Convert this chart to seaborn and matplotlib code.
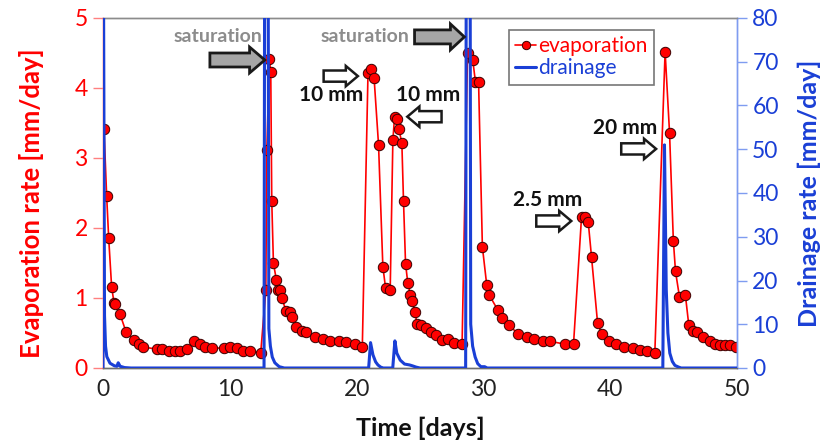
import matplotlib
matplotlib.use("Agg")
import matplotlib.pyplot as plt
from matplotlib.patches import FancyArrow
from matplotlib.lines import Line2D
import seaborn as sns
import pandas as pd

# Evaporation measurements (days, mm/day)
evap_days = [0.0, 0.08, 0.29, 0.45, 0.68, 0.87, 0.97, 1.34, 1.81, 2.47, 2.86, 3.17,
             4.22, 4.69, 5.2, 5.67, 6.09, 6.64, 7.17, 7.64, 8.08, 8.61, 9.55, 10.05,
             10.55, 11.05, 11.57, 12.44, 12.84, 12.92, 13.12, 13.23, 13.31, 13.44,
             13.67, 13.82, 13.97, 14.1, 14.43, 14.72, 14.94, 15.25, 15.72, 16.04,
             16.69, 17.35, 17.93, 18.61, 19.19, 19.84, 20.45, 20.9, 21.15, 21.38,
             21.73, 22.07, 22.28, 22.65, 22.86, 22.99, 23.17, 23.33, 23.57, 23.7,
             23.86, 24.04, 24.25, 24.39, 24.57, 24.79, 25.1, 25.48, 25.88, 26.27,
             26.72, 27.24, 27.66, 28.32, 28.75, 29.16, 29.37, 29.62, 29.92, 30.26,
             30.47, 31.13, 31.47, 32.05, 32.76, 33.41, 34.02, 34.67, 35.28, 36.46,
             37.11, 37.74, 38.03, 38.27, 38.53, 39.0, 39.32, 39.92, 40.45, 41.1,
             41.76, 42.34, 42.94, 43.52, 44.33, 44.68, 44.98, 45.15, 45.46, 45.93,
             46.2, 46.55, 46.85, 47.32, 47.85, 48.27, 48.64, 49.06, 49.43, 49.95]
evap_rate = [5.6, 3.41, 2.45, 1.85, 1.16, 0.93, 0.91, 0.77, 0.52, 0.40, 0.35, 0.30,
             0.27, 0.27, 0.24, 0.24, 0.24, 0.27, 0.39, 0.35, 0.30, 0.29, 0.28, 0.30,
             0.28, 0.24, 0.24, 0.22, 1.11, 3.11, 4.41, 4.23, 2.38, 1.50,
             1.26, 1.12, 1.11, 1.00, 0.82, 0.80, 0.73, 0.59, 0.53, 0.52,
             0.45, 0.41, 0.38, 0.38, 0.37, 0.35, 0.30, 4.22, 4.27, 4.14,
             3.19, 1.45, 1.15, 1.12, 3.25, 3.58, 3.55, 3.42, 3.21, 2.38,
             1.49, 1.21, 1.04, 0.96, 0.80, 0.63, 0.61, 0.57, 0.52, 0.47,
             0.40, 0.41, 0.36, 0.35, 4.50, 4.40, 4.09, 4.08, 1.73, 1.19,
             1.04, 0.83, 0.71, 0.61, 0.48, 0.44, 0.41, 0.38, 0.38, 0.34,
             0.35, 2.16, 2.15, 2.08, 1.58, 0.65, 0.48, 0.38, 0.34, 0.30,
             0.28, 0.26, 0.24, 0.22, 4.52, 3.36, 1.82, 1.38, 1.02, 1.04,
             0.61, 0.53, 0.52, 0.45, 0.38, 0.35, 0.33, 0.33, 0.33, 0.30]

# Drainage outflow (days, mm/day)
drain_days = [0.0, 0.03, 0.12, 0.2, 0.3, 0.55, 0.9, 1.1, 1.2, 1.35, 1.7, 2.2,
              12.7, 12.75, 13.02, 13.08, 13.2, 13.35, 13.55, 13.7, 13.9, 14.3,
              20.95, 21.1, 21.29, 21.5, 21.68, 21.9, 22.1,
              22.85, 23.02, 23.17, 23.44, 23.78, 24.17, 24.4, 24.7, 25.0,
              28.6, 28.65, 28.95, 29.0, 29.15, 29.35, 29.55, 29.8, 30.1, 30.3,
              44.15, 44.28, 44.35, 44.42, 44.55, 44.7, 44.9, 45.1, 45.4, 45.6, 50.0]
drain_rate = [0, 100, 12, 5, 2.6, 1.1, 0.5, 0.4, 1.2, 0.4, 0.1, 0,
              0, 100, 100, 9, 5, 2.5, 1.2, 0.8, 0.3, 0,
              0, 5.8, 3.0, 1.4, 0.7, 0.2, 0,
              0, 6.2, 3.4, 1.8, 0.9, 0.7, 0.5, 0.2, 0,
              0, 100, 100, 10, 5, 2.5, 1.0, 0.3, 0.3, 0,
              0, 51, 35, 18, 8, 3.4, 1.5, 0.6, 0.2, 0, 0]

x_ticks = [0, 10, 20, 30, 40, 50]
evap_ticks = [0, 1, 2, 3, 4, 5]
drain_ticks = [0, 10, 20, 30, 40, 50, 60, 70, 80]

RED = "#ff0000"
BLUE = "#1a3fd6"
LIGHT_RED = "#ff8080"
LIGHT_BLUE = "#7f9cf0"

sns.set_style("white")
plt.rcParams["font.family"] = ["Lato", "DejaVu Sans"]

evap_df = pd.DataFrame({"day": evap_days, "rate": evap_rate})
drain_df = pd.DataFrame({"day": drain_days, "rate": drain_rate})

fig = plt.figure(figsize=(8.25, 4.45), dpi=100)
ax = fig.add_axes([103 / 825, 1 - 368 / 445, 634 / 825, 350 / 445])
ax2 = ax.twinx()

sns.lineplot(data=evap_df, x="day", y="rate", ax=ax, color=RED, linewidth=1.2,
             marker="o", markersize=7.5, markerfacecolor=RED,
             markeredgecolor="#3a0000", markeredgewidth=0.7,
             estimator=None, sort=False)
sns.lineplot(data=drain_df, x="day", y="rate", ax=ax2, color=BLUE, linewidth=2.2,
             estimator=None, sort=False, zorder=3)

ax.set_xlim(0, 50)
ax.set_ylim(0, 5)
ax2.set_ylim(0, 80)
ax.set_xticks(x_ticks)
ax.set_yticks(evap_ticks)
ax2.set_yticks(drain_ticks)

for a in (ax, ax2):
    a.spines["top"].set_color("#8c8c8c")
    a.spines["bottom"].set_color("#6e6e6e")
    a.spines["left"].set_color(LIGHT_RED)
    a.spines["right"].set_color(LIGHT_BLUE)
    for s in a.spines.values():
        s.set_linewidth(1.0)
    a.grid(False)

ax.tick_params(axis="x", direction="out", length=6, width=1, color="#6e6e6e",
               labelsize=16.5, labelcolor="#222222", pad=2)
ax.tick_params(axis="y", direction="out", length=7, width=1, color=LIGHT_RED,
               labelsize=16.5, labelcolor=RED, pad=4)
ax2.tick_params(axis="y", direction="out", length=7, width=1, color=LIGHT_BLUE,
                labelsize=16.5, labelcolor=BLUE, pad=4)

ax.set_xlabel("Time [days]", fontsize=18, fontweight="bold", color="#111111")
ax.set_ylabel("Evaporation rate [mm/day]", fontsize=18.5, fontweight="bold", color=RED)
ax2.set_ylabel("Drainage rate [mm/day]", fontsize=18, fontweight="bold", color=BLUE)
ax.xaxis.set_label_coords(0.5, -0.14)
ax.yaxis.set_label_coords(-0.093, 0.47)
ax2.yaxis.set_label_coords(1.095, 0.5)


def block_arrow(x_tail, x_tip, y, face, body=0.17, head=0.32, head_len=1.0, lw=1.6):
    arr = FancyArrow(x_tail, y, x_tip - x_tail, 0, width=body, head_width=head,
                     head_length=head_len, length_includes_head=True,
                     facecolor=face, edgecolor="#1a1a1a", linewidth=lw,
                     zorder=4, clip_on=False)
    ax2.add_patch(arr)
    # positioned in evaporation data units
    arr.set_transform(ax.transData)


# saturation markers
block_arrow(8.43, 12.76, 4.40, "#a6a6a6", body=0.2, head=0.37, head_len=1.2, lw=2)
block_arrow(24.57, 28.5, 4.73, "#a6a6a6", body=0.2, head=0.37, head_len=1.1, lw=2)
ax.text(9.06, 4.73, "saturation", ha="center", va="center", fontsize=14,
        fontweight="bold", color="#8c8c8c", zorder=5)
ax.text(20.7, 4.73, "saturation", ha="center", va="center", fontsize=14,
        fontweight="bold", color="#8c8c8c", zorder=5)

# rainfall pulses
block_arrow(17.4, 20.1, 4.17, "white", body=0.16, head=0.29, head_len=0.95, lw=1.8)
block_arrow(26.7, 24.0, 3.59, "white", body=0.16, head=0.29, head_len=0.95, lw=1.8)
block_arrow(34.17, 36.93, 2.10, "white", body=0.16, head=0.29, head_len=0.95, lw=1.8)
block_arrow(40.87, 43.62, 3.13, "white", body=0.16, head=0.29, head_len=0.95, lw=1.8)
for xt, yt, label in [(18.03, 3.90, "10 mm"), (25.67, 3.90, "10 mm"),
                      (35.04, 2.40, "2.5 mm"), (41.18, 3.43, "20 mm")]:
    ax.text(xt, yt, label, ha="center", va="center", fontsize=15,
            fontweight="bold", color="#111111", zorder=5)

handles = [Line2D([], [], color=RED, linewidth=1.2, marker="o", markersize=6,
                  markerfacecolor=RED, markeredgecolor="#3a0000", markeredgewidth=0.7),
           Line2D([], [], color=BLUE, linewidth=2.2)]
leg = ax2.legend(handles, ["evaporation", "drainage"], loc="upper left",
                 bbox_to_anchor=(509 / 825, 1 - 30 / 445),
                 bbox_transform=fig.transFigure, borderaxespad=0, fontsize=15,
                 frameon=True, fancybox=False, edgecolor="#555555",
                 handlelength=1.0, handletextpad=0.1, labelspacing=0.1,
                 borderpad=0.3)
leg.get_frame().set_linewidth(1.2)
for txt, col in zip(leg.get_texts(), [RED, BLUE]):
    txt.set_color(col)

fig.savefig("out.png", dpi=100)
